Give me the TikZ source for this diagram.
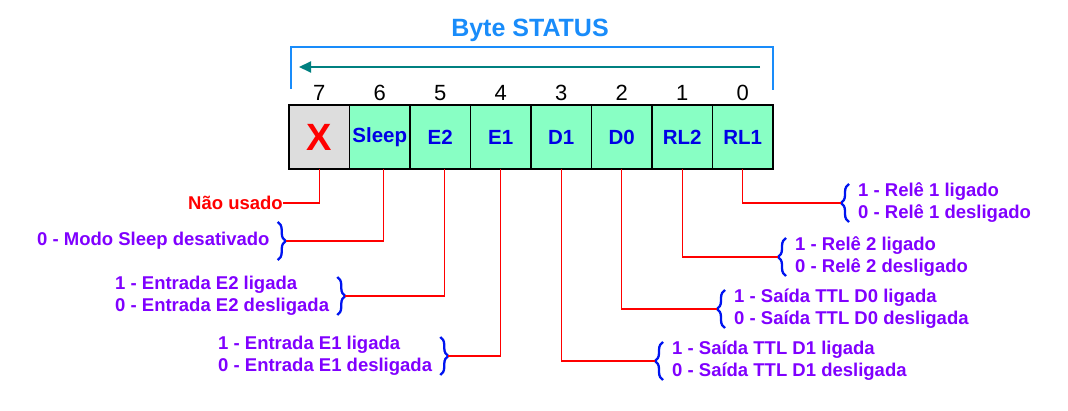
\documentclass[tikz,border=0pt]{standalone}
\usepackage{fontspec}
\setmainfont{Liberation Sans}
\usetikzlibrary{positioning,arrows.meta,decorations.pathreplacing}

\definecolor{titleblue}{RGB}{25,140,250}
\definecolor{shiftteal}{RGB}{0,128,128}
\definecolor{cellgreen}{RGB}{136,255,196}
\definecolor{cellgray}{RGB}{221,221,221}
\definecolor{cellblue}{RGB}{0,0,230}
\definecolor{descpurple}{RGB}{128,0,255}
\definecolor{braceblue}{RGB}{0,20,240}

\begin{document}
\begin{tikzpicture}[x=1pt,y=-1pt,
  cell/.style={draw=black,line width=1.2pt,fill=cellgreen,minimum width=60.5pt,
    minimum height=64pt,inner sep=0pt,outer sep=0pt,text=cellblue,
    font=\bfseries\fontsize{20.5}{22}\selectfont},
  bitnum/.style={font=\fontsize{22}{24}\selectfont,inner sep=0pt},
  desc/.style={font=\bfseries\fontsize{18.5}{22}\selectfont,text=descpurple,
    align=left,inner sep=0pt,anchor=west},
  link/.style={draw=red,line width=1.3pt},
  curly/.style={draw=braceblue,line width=2.3pt,decorate,
    decoration={brace,amplitude=8pt}}]
  \useasboundingbox (0,0) rectangle (1068,411);

  % title and shift direction
  \node[font=\bfseries\fontsize{25}{28}\selectfont,text=titleblue] (title) at (530,30) {Byte STATUS};
  \draw[titleblue,line width=1.3pt] (291,89) |- (773,47) -- (773,90);
  \draw[shiftteal,line width=2pt,-{Triangle[length=12pt,width=11pt]}] (760,67) -- (299,67);

  % the eight bits
  \node[cell,fill=cellgray,text=red,font=\bfseries\fontsize{38}{40}\selectfont,
    anchor=north west] (c7) at (289,105) {X};
  \node[cell,right=0pt of c7] (c6) {Sleep};
  \node[cell,right=0pt of c6] (c5) {E2};
  \node[cell,right=0pt of c5] (c4) {E1};
  \node[cell,right=0pt of c4] (c3) {D1};
  \node[cell,right=0pt of c3] (c2) {D0};
  \node[cell,right=0pt of c2] (c1) {RL2};
  \node[cell,right=0pt of c1] (c0) {RL1};
  \foreach \i in {0,...,7}
    \node[bitnum,above=4pt of c\i] (n\i) {\i};

  % meaning of each bit
  \node[desc,text=red,anchor=east] (nao) at (283,203) {Não usado};
  \node[desc] (d6) at (37,241) {0 - Modo Sleep desativado};
  \node[desc] (d5) at (115,296) {1 - Entrada E2 ligada\\0 - Entrada E2 desligada};
  \node[desc] (d4) at (218,356) {1 - Entrada E1 ligada\\0 - Entrada E1 desligada};
  \node[desc] (d0) at (858,203) {1 - Relê 1 ligado\\0 - Relê 1 desligado};
  \node[desc] (d1) at (795,257) {1 - Relê 2 ligado\\0 - Relê 2 desligado};
  \node[desc] (d2) at (734,309) {1 - Saída TTL D0 ligada\\0 - Saída TTL D0 desligada};
  \node[desc] (d3) at (672,361) {1 - Saída TTL D1 ligada\\0 - Saída TTL D1 desligada};

  % braces
  \foreach \d in {d6,d5,d4}
    \draw[curly] ([xshift=8pt,yshift=19pt]\d.east) -- ([xshift=8pt,yshift=-19pt]\d.east);
  \foreach \d in {d0,d1,d2,d3}
    \draw[curly] ([xshift=-9pt,yshift=-19pt]\d.west) -- ([xshift=-9pt,yshift=19pt]\d.west);

  % connecting bits to their meaning
  \draw[link] (c7.south) |- (nao.east);
  \draw[link] ([xshift=4pt]c6.south) |- ([xshift=16pt]d6.east);
  \draw[link] ([xshift=4pt]c5.south) |- ([xshift=16pt]d5.east);
  \draw[link] (c4.south) |- ([xshift=16pt]d4.east);
  \draw[link] (c3.south) |- ([xshift=-17pt]d3.west);
  \draw[link] (c2.south) |- ([xshift=-17pt]d2.west);
  \draw[link] (c1.south) |- ([xshift=-17pt]d1.west);
  \draw[link] (c0.south) |- ([xshift=-17pt]d0.west);
\end{tikzpicture}
\end{document}
